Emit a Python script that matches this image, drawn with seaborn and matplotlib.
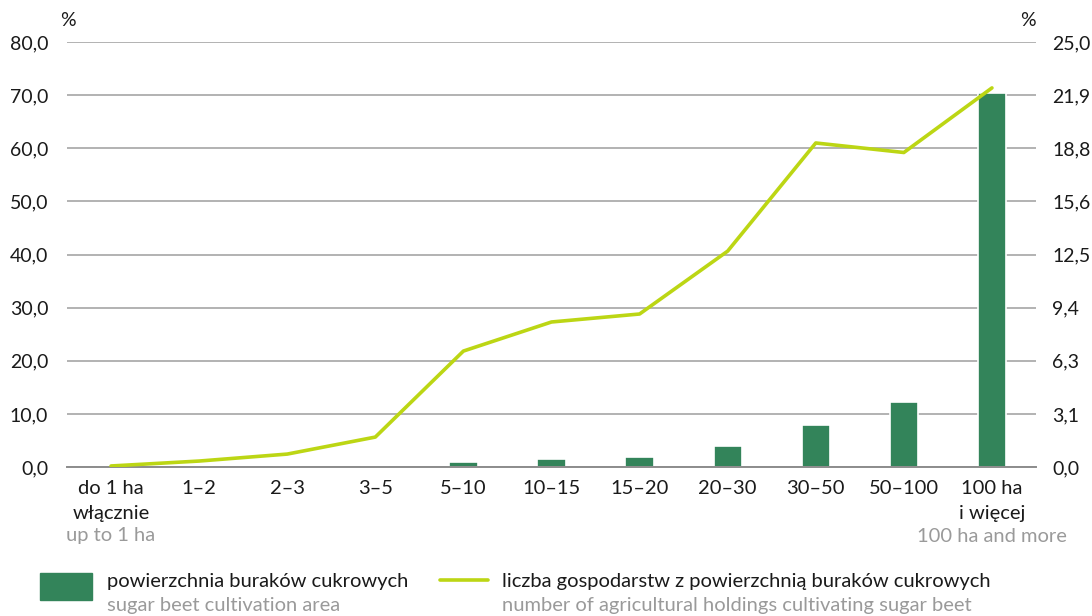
import matplotlib
matplotlib.use("Agg")
import matplotlib.pyplot as plt
import matplotlib.transforms as mtransforms
from matplotlib.patches import Rectangle
from matplotlib.lines import Line2D
import seaborn as sns
import pandas as pd

categories = ["do 1 ha\nwłącznie", "1–2", "2–3", "3–5", "5–10", "10–15", "15–20",
              "20–30", "30–50", "50–100", "100 ha\ni więcej"]
english_first = "up to 1 ha"
english_last = "100 ha and more"
area_share = [0.0, 0.0, 0.0, 0.0, 0.9, 1.5, 1.9, 3.9, 7.9, 12.2, 70.4]
holdings_share = [0.06, 0.35, 0.76, 1.76, 6.82, 8.53, 9.0, 12.7, 19.06, 18.5, 22.3]
left_ticks = [0, 10, 20, 30, 40, 50, 60, 70, 80]
right_ticks = [0, 3.125, 6.25, 9.375, 12.5, 15.625, 18.75, 21.875, 25]
right_labels = ["0,0", "3,1", "6,3", "9,4", "12,5", "15,6", "18,8", "21,9", "25,0"]
legend_bar_pl = "powierzchnia buraków cukrowych"
legend_bar_en = "sugar beet cultivation area"
legend_line_pl = "liczba gospodarstw z powierzchnią buraków cukrowych"
legend_line_en = "number of agricultural holdings cultivating sugar beet"

BAR = "#33845a"
LINE = "#bcd614"
GRID = "#a6a6a6"
GRAYTXT = "#9a9a9a"

sns.set_theme(style="white")
plt.rcParams["font.family"] = ["Lato", "DejaVu Sans"]
FS = 14.5
TFS = 14

df = pd.DataFrame({"cat": categories, "area": area_share, "hold": holdings_share})

fig = plt.figure(figsize=(10.92, 6.16), dpi=100)
ax = fig.add_axes([67 / 1092, (616 - 467) / 616, (1036 - 67) / 1092, 425 / 616])

sns.barplot(data=df, x="cat", y="area", color=BAR, width=0.32, ax=ax,
            edgecolor="white", linewidth=1.2, saturation=1, zorder=2)
ax.set_ylim(0, 80)
ax.set_xlim(-0.5, len(categories) - 0.5)
ax.set_yticks(left_ticks)
ax.set_yticklabels([f"{v:.1f}".replace(".", ",") for v in left_ticks], fontsize=TFS)
ax.yaxis.grid(True, color=GRID, linewidth=1.2, zorder=0)
ax.set_axisbelow(True)
for s in ["top", "right", "left"]:
    ax.spines[s].set_visible(False)
ax.spines["bottom"].set_color("#8c8c8c")
ax.spines["bottom"].set_linewidth(1.4)
ax.tick_params(axis="y", length=0, pad=13.5, colors="#1a1a1a")
ax.tick_params(axis="x", length=0, pad=9, colors="#1a1a1a")
ax.set_xticks(range(len(categories)))
ax.set_xticklabels(categories, fontsize=FS, linespacing=1.6)
ax.set_xlabel("")
ax.set_ylabel("")

ax2 = ax.twinx()
sns.lineplot(data=df, x="cat", y="hold", color=LINE, linewidth=2.6, ax=ax2, sort=False)
ax2.set_ylim(0, 25)
ax2.set_yticks(right_ticks)
ax2.set_yticklabels(right_labels, fontsize=TFS)
ax2.tick_params(axis="y", length=0, pad=11.5, colors="#1a1a1a")
ax2.set_ylabel("")
ax2.grid(False)
for s in ax2.spines.values():
    s.set_visible(False)

# % unit labels
fig.text(68 / 1092, 1 - 20 / 616, "%", fontsize=TFS, ha="center", va="center", color="#1a1a1a")
fig.text(1028 / 1092, 1 - 20 / 616, "%", fontsize=TFS, ha="center", va="center", color="#1a1a1a")

# English sublabels
trans = mtransforms.blended_transform_factory(ax.transData, fig.transFigure)
ax.text(0, 1 - 536 / 616, english_first, transform=trans, ha="center", va="center",
        fontsize=FS, color=GRAYTXT)
ax.text(len(categories) - 1, 1 - 536 / 616, english_last, transform=trans, ha="center",
        va="center", fontsize=FS, color=GRAYTXT)

# Legend
fig.patches.append(Rectangle((40 / 1092, 1 - 600 / 616), 52 / 1092, 27 / 616,
                             transform=fig.transFigure, color=BAR))
fig.text(107 / 1092, 1 - 581 / 616, legend_bar_pl, fontsize=FS, va="center", color="#1a1a1a")
fig.text(107 / 1092, 1 - 605 / 616, legend_bar_en, fontsize=FS, va="center", color=GRAYTXT)
fig.lines.append(Line2D([440 / 1092, 488 / 1092], [1 - 580 / 616, 1 - 580 / 616],
                        transform=fig.transFigure, color=LINE, linewidth=2.6))
fig.text(502 / 1092, 1 - 581 / 616, legend_line_pl, fontsize=FS, va="center", color="#1a1a1a")
fig.text(502 / 1092, 1 - 605 / 616, legend_line_en, fontsize=FS, va="center", color=GRAYTXT)

fig.savefig("out.png", dpi=100)
